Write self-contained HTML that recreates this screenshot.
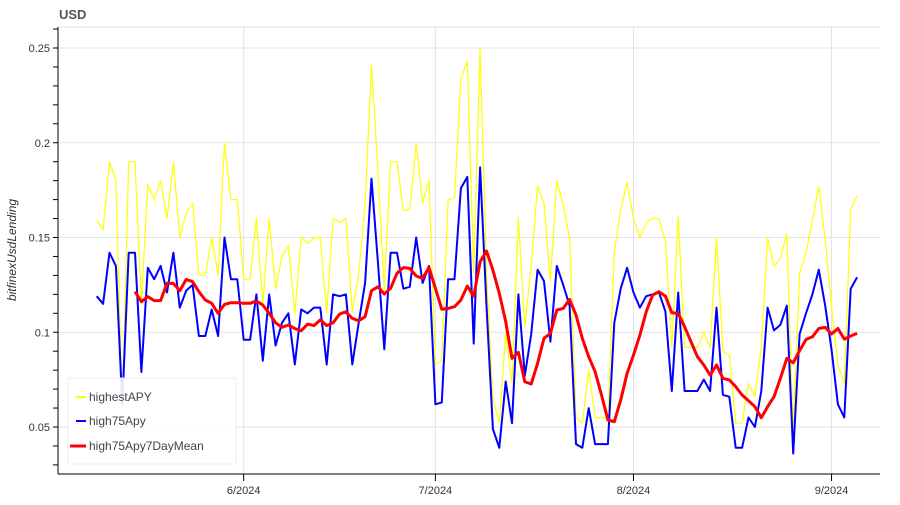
<!DOCTYPE html>
<html><head><meta charset="utf-8"><style>
html,body{margin:0;padding:0;background:#fff;}
svg text{font-family:"Liberation Sans",Arial,sans-serif;}
</style></head><body>
<svg id="chart" width="900" height="500" viewBox="0 0 900 500" xmlns="http://www.w3.org/2000/svg">
<text x="59" y="19" font-size="13" font-weight="bold" fill="#555">USD</text>
<text transform="translate(16,250) rotate(-90)" text-anchor="middle" font-size="12" font-style="italic" fill="#333">bitfinexUsdLending</text>
<g id="grid"></g>
<g id="series"></g>
<g id="axes"></g>
<g>
<rect x="68" y="378" width="168" height="86" fill="#fff" fill-opacity="0.9" stroke="#eee"/>
<line x1="76" y1="397" x2="86" y2="397" stroke="#ffff00" stroke-width="2"/>
<text x="89" y="401" font-size="12" fill="#444">highestAPY</text>
<line x1="76" y1="421" x2="86" y2="421" stroke="#0000ff" stroke-width="2"/>
<text x="89" y="425" font-size="12" fill="#444">high75Apy</text>
<line x1="70" y1="446" x2="86" y2="446" stroke="#ff0000" stroke-width="3"/>
<text x="89" y="450" font-size="12" fill="#444">high75Apy7DayMean</text>
</g>
</svg>
<script>
const startDate = "2024-05-09";
const highestAPY = [0.159,0.154,0.190,0.180,0.060,0.190,0.190,0.115,0.178,0.170,0.180,0.160,0.190,0.150,0.163,0.168,0.130,0.130,0.150,0.130,0.200,0.170,0.170,0.128,0.128,0.160,0.115,0.160,0.123,0.140,0.146,
0.110,0.150,0.147,0.150,0.150,0.110,0.160,0.158,0.160,0.111,0.131,0.168,0.241,0.185,0.122,0.190,0.190,0.164,0.165,0.200,0.168,0.180,0.083,0.085,0.170,0.171,0.234,0.243,0.131,0.250,
0.131,0.065,0.052,0.100,0.073,0.160,0.103,0.135,0.177,0.168,0.127,0.180,0.167,0.150,0.055,0.052,0.080,0.055,0.055,0.055,0.142,0.165,0.179,0.160,0.150,0.158,0.160,0.160,0.148,
0.092,0.161,0.092,0.092,0.092,0.100,0.092,0.150,0.090,0.088,0.052,0.052,0.073,0.066,0.092,0.150,0.135,0.139,0.152,0.048,0.131,0.142,0.159,0.177,0.149,0.114,0.083,0.073,0.165,0.172];
const high75Apy = [0.119,0.115,0.142,0.135,0.062,0.142,0.142,0.079,0.134,0.128,0.135,0.121,0.142,0.113,0.122,0.125,0.098,0.098,0.112,0.098,0.150,0.128,0.128,0.096,0.096,0.120,0.085,0.120,0.093,0.105,0.110,
0.083,0.112,0.110,0.113,0.113,0.083,0.120,0.119,0.120,0.083,0.105,0.126,0.181,0.137,0.091,0.142,0.142,0.123,0.124,0.150,0.126,0.135,0.062,0.063,0.128,0.128,0.176,0.182,0.094,0.187,
0.114,0.049,0.039,0.074,0.052,0.120,0.077,0.099,0.133,0.127,0.095,0.135,0.125,0.114,0.041,0.039,0.060,0.041,0.041,0.041,0.105,0.123,0.134,0.121,0.113,0.119,0.120,0.121,0.111,
0.069,0.121,0.069,0.069,0.069,0.075,0.069,0.113,0.067,0.066,0.039,0.039,0.055,0.050,0.069,0.113,0.101,0.104,0.114,0.036,0.099,0.110,0.120,0.133,0.114,0.091,0.062,0.055,0.123,0.129];
const high75Apy7DayMean = [null,null,null,null,null,null,
0.1214,0.1161,0.1188,0.1167,0.1167,0.1258,0.1258,0.1219,0.1279,0.1267,0.1214,0.1170,0.1153,0.1100,0.1147,0.1156,0.1156,0.1153,0.1153,0.1165,0.1144,0.1100,0.1050,0.1026,0.1038,
0.1020,0.1008,0.1043,0.1035,0.1065,0.1035,0.1050,0.1096,0.1108,0.1073,0.1061,0.1082,0.1219,0.1240,0.1202,0.1232,0.1311,0.1341,0.1337,0.1297,0.1284,0.1342,0.1232,0.1121,0.1126,0.1135,0.1170,0.1244,0.1191,0.1372,
0.1429,0.1328,0.1205,0.1056,0.0862,0.0894,0.0739,0.0727,0.0836,0.0968,0.0994,0.1117,0.1126,0.1173,0.1091,0.0968,0.0871,0.0792,0.0669,0.0537,0.0528,0.0642,0.0783,0.0880,0.0985,0.1108,0.1196,0.1214,0.1191,
0.1103,0.1100,0.1029,0.0950,0.0871,0.0827,0.0774,0.0827,0.0757,0.0748,0.0713,0.0669,0.0639,0.0607,0.0549,0.0607,0.0660,0.0757,0.0862,0.0839,0.0903,0.0962,0.0976,0.1020,0.1026,0.0991,0.1020,0.0964,0.0980,0.0994];
const yTicks = [0.05,0.1,0.15,0.2,0.25];
const yTickLabels = ["0.05","0.1","0.15","0.2","0.25"];
const xTickDates = ["2024-06-01","2024-07-01","2024-08-01","2024-09-01"];
const xTickLabels = ["6/2024","7/2024","8/2024","9/2024"];

const NS="http://www.w3.org/2000/svg";
const L=58,R=880,T=27,B=474;
const DAY=86400000, t0=Date.parse(startDate);
function xDay(d){return 96.7+d*6.39;}
function xDate(s){return xDay((Date.parse(s)-t0)/DAY);}
function y(v){return 48+(0.25-v)*1895;}
function mk(tag,attrs,parent){const e=document.createElementNS(NS,tag);for(const k in attrs)e.setAttribute(k,attrs[k]);parent.appendChild(e);return e;}
const grid=document.getElementById('grid'),axes=document.getElementById('axes'),ser=document.getElementById('series');
mk('line',{x1:L,y1:T,x2:R,y2:T,stroke:'#e3e3e3'},grid);
yTicks.forEach((v,i)=>{
  const g=mk('line',{x1:L,y1:y(v),x2:R,y2:y(v),stroke:'#e3e3e3'},grid);
  
  
  const t=mk('text',{x:L-8,y:y(v)+4,'text-anchor':'end','font-size':'11',fill:'#333'},axes);
  t.textContent=yTickLabels[i];
  
  
});
for(let v=0.03;v<=0.265;v+=0.01){const yy=y(v);if(yy>T&&yy<B)mk('line',{x1:L-5,y1:yy,x2:L,y2:yy,stroke:'#000'},axes);}
xTickDates.forEach((d,i)=>{
  const x=xDate(d);
  const g=mk('line',{x1:x,y1:T,x2:x,y2:B,stroke:'#e3e3e3'},grid);
  
  
  mk('line',{x1:x,y1:B,x2:x,y2:B+7,stroke:'#000'},axes);
  const t=mk('text',{x:x,y:B+20,'text-anchor':'middle','font-size':'11',fill:'#333'},axes);
  t.textContent=xTickLabels[i];
  
  
});
mk('line',{x1:L,y1:T,x2:L,y2:B,stroke:'#000'},axes);
mk('line',{x1:L,y1:B,x2:R,y2:B,stroke:'#000'},axes);
function line(arr,color,w,name){
  let d='';arr.forEach((v,i)=>{if(v==null)return;d+=(d?'L':'M')+xDay(i).toFixed(1)+','+y(v).toFixed(1);});
  const p=mk('path',{d:d,fill:'none',stroke:color,'stroke-width':w,'stroke-linejoin':'round'},ser);
  
  
}
line(highestAPY,'#ffff00',1.2,'highestapy-line');
line(high75Apy,'#0000ff',2,'high75apy-line');
line(high75Apy7DayMean,'#ff0000',3,'high75apy-7day-mean-line');
</script>
</body></html>
